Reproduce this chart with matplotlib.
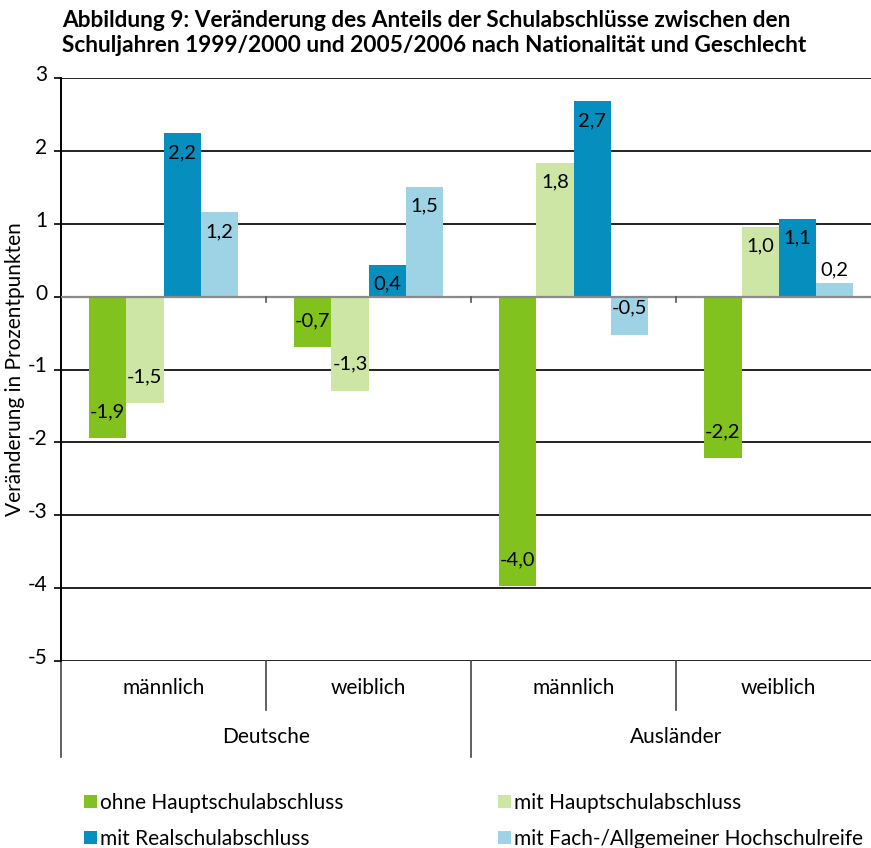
import matplotlib
matplotlib.use("Agg")
import matplotlib.pyplot as plt
import matplotlib.transforms as mtransforms
import numpy as np

plt.rcParams['font.family'] = ['Lato', 'DejaVu Sans']

title = ("Abbildung 9: Veränderung des Anteils der Schulabschlüsse zwischen den\n"
         "Schuljahren 1999/2000 und 2005/2006 nach Nationalität und Geschlecht")
ylabel = "Veränderung in Prozentpunkten"
groups = ["Deutsche", "Ausländer"]
genders = ["männlich", "weiblich", "männlich", "weiblich"]
series_names = ["ohne Hauptschulabschluss", "mit Hauptschulabschluss",
                "mit Realschulabschluss", "mit Fach-/Allgemeiner Hochschulreife"]
colors = ["#82C21E", "#CDE6A6", "#068FBE", "#9DD3E5"]

ohne_hs = [-1.94, -0.69, -3.97, -2.22]
mit_hs = [-1.46, -1.29, 1.84, 0.96]
mit_rs = [2.24, 0.44, 2.68, 1.07]
mit_abi = [1.16, 1.51, -0.52, 0.19]
series = [ohne_hs, mit_hs, mit_rs, mit_abi]
yticks = [3, 2, 1, 0, -1, -2, -3, -4, -5]

FS = 15

fig = plt.figure(figsize=(8.71, 8.48), dpi=100)
ax = fig.add_axes([61/871, 1-661/848, 1-61/871, (661-78)/848])

x = np.arange(4)
bw = 0.1815
handles = []
for i, (vals, c) in enumerate(zip(series, colors)):
    pos = x + (i - 1.5) * bw
    b = ax.bar(pos, vals, bw, color=c, zorder=3, label=series_names[i])
    handles.append(b)
    for p, v in zip(pos, vals):
        lab = f"{v:.1f}".replace(".", ",")
        if abs(v) < 0.3 and v > 0:
            ax.annotate(lab, (p, v), xytext=(0, 3), textcoords="offset points",
                        ha="center", va="bottom", fontsize=FS - 0.5, zorder=5)
        elif v >= 0:
            ax.annotate(lab, (p, v), xytext=(0, -14), textcoords="offset points",
                        ha="center", va="center", fontsize=FS - 0.5, zorder=5)
        else:
            ax.annotate(lab, (p, v), xytext=(0, 19), textcoords="offset points",
                        ha="center", va="center", fontsize=FS - 0.5, zorder=5)

ax.set_xlim(-0.5, 3.45)
ax.set_ylim(-5, 3)
ax.set_yticks(yticks)
ax.set_yticklabels([])
ytr = mtransforms.offset_copy(ax.get_yaxis_transform(), fig=fig, x=-14, y=3, units="dots")
for t in yticks:
    ax.text(0, t, str(t), transform=ytr, ha="right", va="center", fontsize=FS, clip_on=False)
for t in yticks:
    if t == 0:
        ax.axhline(t, color="#8a8a8a", lw=1.6, zorder=4)
    else:
        ax.axhline(t, color="#222222", lw=1.4, zorder=1)
ax.set_xticks([])
for s in ["top", "right", "bottom"]:
    ax.spines[s].set_visible(False)
ax.spines["left"].set_linewidth(1.4)
ax.tick_params(axis="y", length=5, width=1.2)
ax.set_ylabel(ylabel, fontsize=FS, va="center")
ax.yaxis.set_label_coords(-46/810, 0.5)

# small ticks at zero line between categories
for b in [0.5, 1.5, 2.5]:
    ax.plot([b, b], [0, -0.08], color="#555555", lw=1.2, zorder=4)

# category axis below
tr = ax.get_xaxis_transform()
ax_h = (661-78)
def ay(py):
    return (661 - py) / ax_h
for xi, g in zip(x, genders):
    ax.text(xi, ay(688), g, transform=tr, ha="center", va="center", fontsize=FS)
for gi, g in enumerate(groups):
    ax.text(0.5 + 2*gi, ay(737), g, transform=tr, ha="center", va="center", fontsize=FS)
for b in [0.5, 2.5]:
    ax.plot([b, b], [0, ay(710)], transform=tr, color="#444444", lw=1.2, clip_on=False)
for b in [-0.5, 1.5]:
    ax.plot([b, b], [0, ay(757)], transform=tr, color="#444444", lw=1.2, clip_on=False)

fig.text(62/871, 1-33/848, title, fontsize=16.3, fontweight="bold", va="center", ha="left",
         linespacing=1.2)

order = [0, 2, 1, 3]
fig.legend(handles=[handles[i] for i in order], labels=[series_names[i] for i in order],
           ncol=2, loc="upper left", bbox_to_anchor=(84/871, 1-793/848), frameon=False,
           fontsize=FS, handlelength=0.6, handleheight=0.6, handletextpad=0.15,
           columnspacing=7.45, labelspacing=0.75, borderaxespad=0, borderpad=0)

fig.savefig("out.png", dpi=100)
